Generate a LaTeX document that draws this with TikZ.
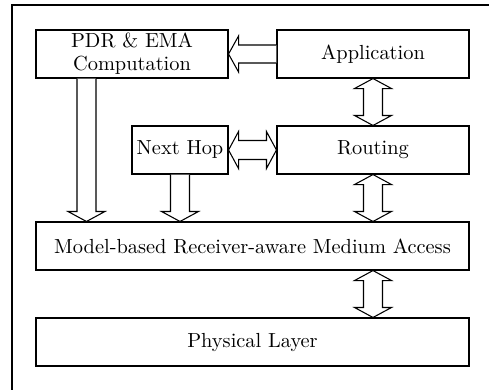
\documentclass[tikz,border=0pt]{standalone}
\usetikzlibrary{calc}
\tikzset{
  box/.style={draw, line width=0.55pt, rectangle, inner sep=0pt, minimum height=24.72pt, align=center, font=\fontsize{10.5}{11.8}\selectfont},
  blockarrow/.style={draw, line width=0.55pt, fill=white, line join=miter}
}
% vertical double block arrow between two tips (top, bottom); y grows downward
\newcommand{\vdblarrow}[2]{%
  \draw[blockarrow] (#1) -- ++(18.5,10) -- ++(-9,0) -- ($(#2)+(9.5,-10)$) -- ++(9,0) -- (#2)
    -- ++(-18.5,-10) -- ++(9,0) -- ($(#1)+(-9.5,10)$) -- ++(-9,0) -- cycle;}
% horizontal double block arrow between two tips (left, right)
\newcommand{\hdblarrow}[2]{%
  \draw[blockarrow] (#1) -- ++(10,-18.5) -- ++(0,9) -- ($(#2)+(-10,-9.5)$) -- ++(0,-9) -- (#2)
    -- ++(-10,18.5) -- ++(0,-9) -- ($(#1)+(10,9.5)$) -- ++(0,9) -- cycle;}
% single block arrow pointing down: from start (#1) to tip (#2)
\newcommand{\downarrowblk}[2]{%
  \draw[blockarrow] ($(#1)+(-9.5,0)$) -- ($(#2)+(-9.5,-10)$) -- ++(-9,0) -- (#2) -- ++(18.5,-10)
    -- ++(-9,0) -- ($(#1)+(9.5,0)$);}
% single block arrow pointing left: from start (#1) to tip (#2)
\newcommand{\leftarrowblk}[2]{%
  \draw[blockarrow] ($(#1)+(0,-9)$) -- ($(#2)+(10,-9)$) -- ++(0,-9) -- (#2) -- ++(10,18)
    -- ++(0,-9) -- ($(#1)+(0,9)$);}
\begin{document}
\begin{tikzpicture}[x=0.515pt, y=-0.515pt]
\useasboundingbox (0,0) rectangle (489,389);
% outer frame (clipped at right and bottom)
\draw[line width=0.55pt] (12,400) -- (12,5) -- (500,5);

\node[box, minimum width=98.88pt] (pdr) at (132,54) {PDR \& EMA\\Computation};
\node[box, minimum width=98.88pt] (app) at (373,54) {Application};
\node[box, minimum width=49.44pt] (nh) at (180,150) {Next Hop};
\node[box, minimum width=98.88pt] (rt) at (373,150) {Routing};
\node[box, minimum width=223pt] (mac) at (252.5,246) {Model-based Receiver-aware Medium Access};
\node[box, minimum width=223pt] (phy) at (252.5,342) {Physical Layer};

\coordinate (pdrdown) at ($(pdr.south west)+(51,0)$);
\coordinate (pdrtip) at (pdrdown |- mac.north);
\coordinate (nhtip) at (nh.south |- mac.north);

\leftarrowblk{app.west}{pdr.east}
\hdblarrow{nh.east}{rt.west}
\vdblarrow{app.south}{rt.north}
\vdblarrow{rt.south}{rt.south |- mac.north}
\vdblarrow{rt.south |- mac.south}{rt.south |- phy.north}
\downarrowblk{pdrdown}{pdrtip}
\downarrowblk{nh.south}{nhtip}
\end{tikzpicture}
\end{document}
